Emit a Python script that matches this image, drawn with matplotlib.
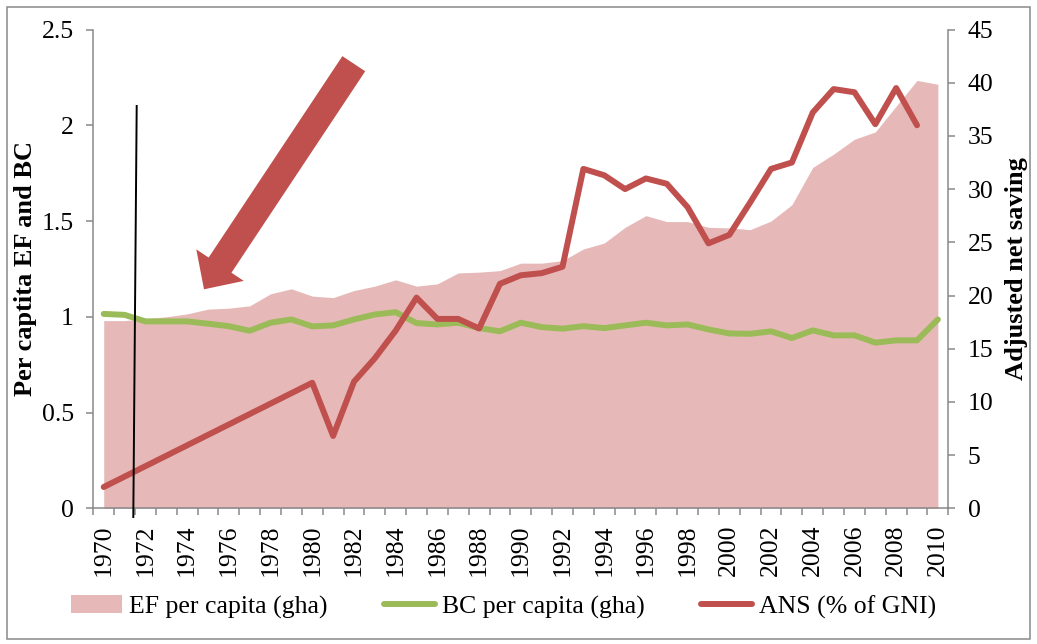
import numpy as np
import matplotlib
matplotlib.use('Agg')
import matplotlib.pyplot as plt
from matplotlib.patches import FancyArrow, Rectangle
from matplotlib.lines import Line2D
from matplotlib.transforms import IdentityTransform

plt.rcParams['font.family'] = ['Liberation Serif', 'DejaVu Serif']

# data
years = list(range(1970, 2011))
ef = [0.98, 0.98, 0.99, 1.00, 1.015, 1.04, 1.045, 1.057, 1.12, 1.146,
      1.108, 1.10, 1.137, 1.16, 1.193, 1.16, 1.172, 1.229, 1.233, 1.241,
      1.28, 1.28, 1.293, 1.354, 1.385, 1.467, 1.528, 1.497, 1.497, 1.467,
      1.464, 1.455, 1.50, 1.585, 1.78, 1.849, 1.927, 1.965, 2.10, 2.234,
      2.214]
bc = [1.015, 1.01, 0.976, 0.976, 0.976, 0.964, 0.951, 0.927, 0.969, 0.986,
      0.95, 0.955, 0.986, 1.012, 1.024, 0.967, 0.96, 0.969, 0.941, 0.924,
      0.969, 0.946, 0.938, 0.951, 0.941, 0.955, 0.969, 0.955, 0.96, 0.934,
      0.913, 0.911, 0.924, 0.889, 0.929, 0.903, 0.903, 0.865, 0.877, 0.877,
      0.986]
ans = [2.0, np.nan, np.nan, np.nan, np.nan, np.nan, np.nan, np.nan, np.nan, np.nan,
       11.8, 6.8, 11.9, 14.1, 16.7, 19.8, 17.8, 17.8, 16.9, 21.1,
       21.9, 22.1, 22.7, 31.9, 31.3, 30.0, 31.0, 30.5, 28.3, 24.9,
       25.7, 28.75, 31.9, 32.5, 37.2, 39.4, 39.1, 36.1, 39.5, 36.0,
       np.nan]

W, H = 1037, 644
fig = plt.figure(figsize=(W / 100, H / 100), dpi=100)
ax = fig.add_axes([93.3 / W, 1 - 508.3 / H, (948.3 - 93.3) / W, (508.3 - 29.5) / H])
ax2 = ax.twinx()

red = '#C0504D'
green = '#9BBB59'
pink = '#E6B9B8'
grey = '#898989'
fs = 18.5

ax.fill_between(years, 0, ef, color=pink, lw=0, label='EF per capita (gha)', zorder=1)
ax.plot(years, bc, color=green, lw=4.3, solid_capstyle='round', solid_joinstyle='round',
        label='BC per capita (gha)', zorder=3)

ans_arr = np.array(ans)
ok = ~np.isnan(ans_arr)
ax2.plot(np.array(years)[ok], ans_arr[ok], color=red, lw=4.3, solid_capstyle='round',
         solid_joinstyle='round', label='ANS (% of GNI)')

ax.set_xlim(1969.5, 2010.5)
ax.set_ylim(0, 2.5)
ax2.set_ylim(0, 45)
ax.set_yticks(np.arange(0, 2.51, 0.5))
ax.set_yticklabels(['0', '0.5', '1', '1.5', '2', '2.5'])
ax2.set_yticks(range(0, 46, 5))

ax.set_xticks(years[::2])
ax.set_xticklabels([str(y) for y in years[::2]], rotation=90)
ax.set_xticks(np.arange(1969.5, 2011, 1), minor=True)
ax.tick_params(axis='x', which='major', length=0, pad=12, labelsize=fs)
ax.tick_params(axis='x', which='minor', length=5, width=1.1, color=grey)
ax.tick_params(axis='y', length=5, width=1.1, color=grey, pad=9, labelsize=fs)
ax2.tick_params(axis='y', length=5, width=1.1, color=grey, pad=9, labelsize=fs)

for a in (ax, ax2):
    a.spines['top'].set_visible(False)
    for s in ('left', 'right', 'bottom'):
        a.spines[s].set_color(grey)
        a.spines[s].set_linewidth(1.1)
ax.spines['right'].set_visible(False)
ax2.spines['left'].set_visible(False)
ax2.spines['bottom'].set_visible(False)

fig.text(26 / W, 1 - 269 / H, 'Per captita EF and BC', rotation=90, ha='center',
         va='center', fontsize=19, fontweight='bold')
fig.text(1017 / W, 1 - 269 / H, 'Adjusted net saving', rotation=90, ha='center',
         va='center', fontsize=19, fontweight='bold')

h1, l1 = ax.get_legend_handles_labels()
h2, l2 = ax2.get_legend_handles_labels()
fig.legend(h1 + h2, l1 + l2, loc='center', bbox_to_anchor=(503.5 / W, 1 - 607 / H),
           ncol=3, frameon=False, fontsize=fs, handlelength=2.0, handleheight=0.7,
           handletextpad=0.25, columnspacing=2.2)

# annotations drawn in pixel coordinates
arrow = FancyArrow(353.8, H - 63.7, -149.8, -225.6, width=27.4, head_width=57,
                   head_length=29, length_includes_head=True, color=red, lw=0,
                   transform=IdentityTransform())
fig.patches.append(arrow)
fig.lines.append(Line2D([136.7, 133.3], [H - 106, H - 517], color='black', lw=1.4,
                        transform=IdentityTransform()))
fig.patches.append(Rectangle((7, H - 639), 1030 - 7, 639 - 7, fill=False, ec=grey, lw=1.1,
                             transform=IdentityTransform()))

fig.savefig('out.png', dpi=100)
